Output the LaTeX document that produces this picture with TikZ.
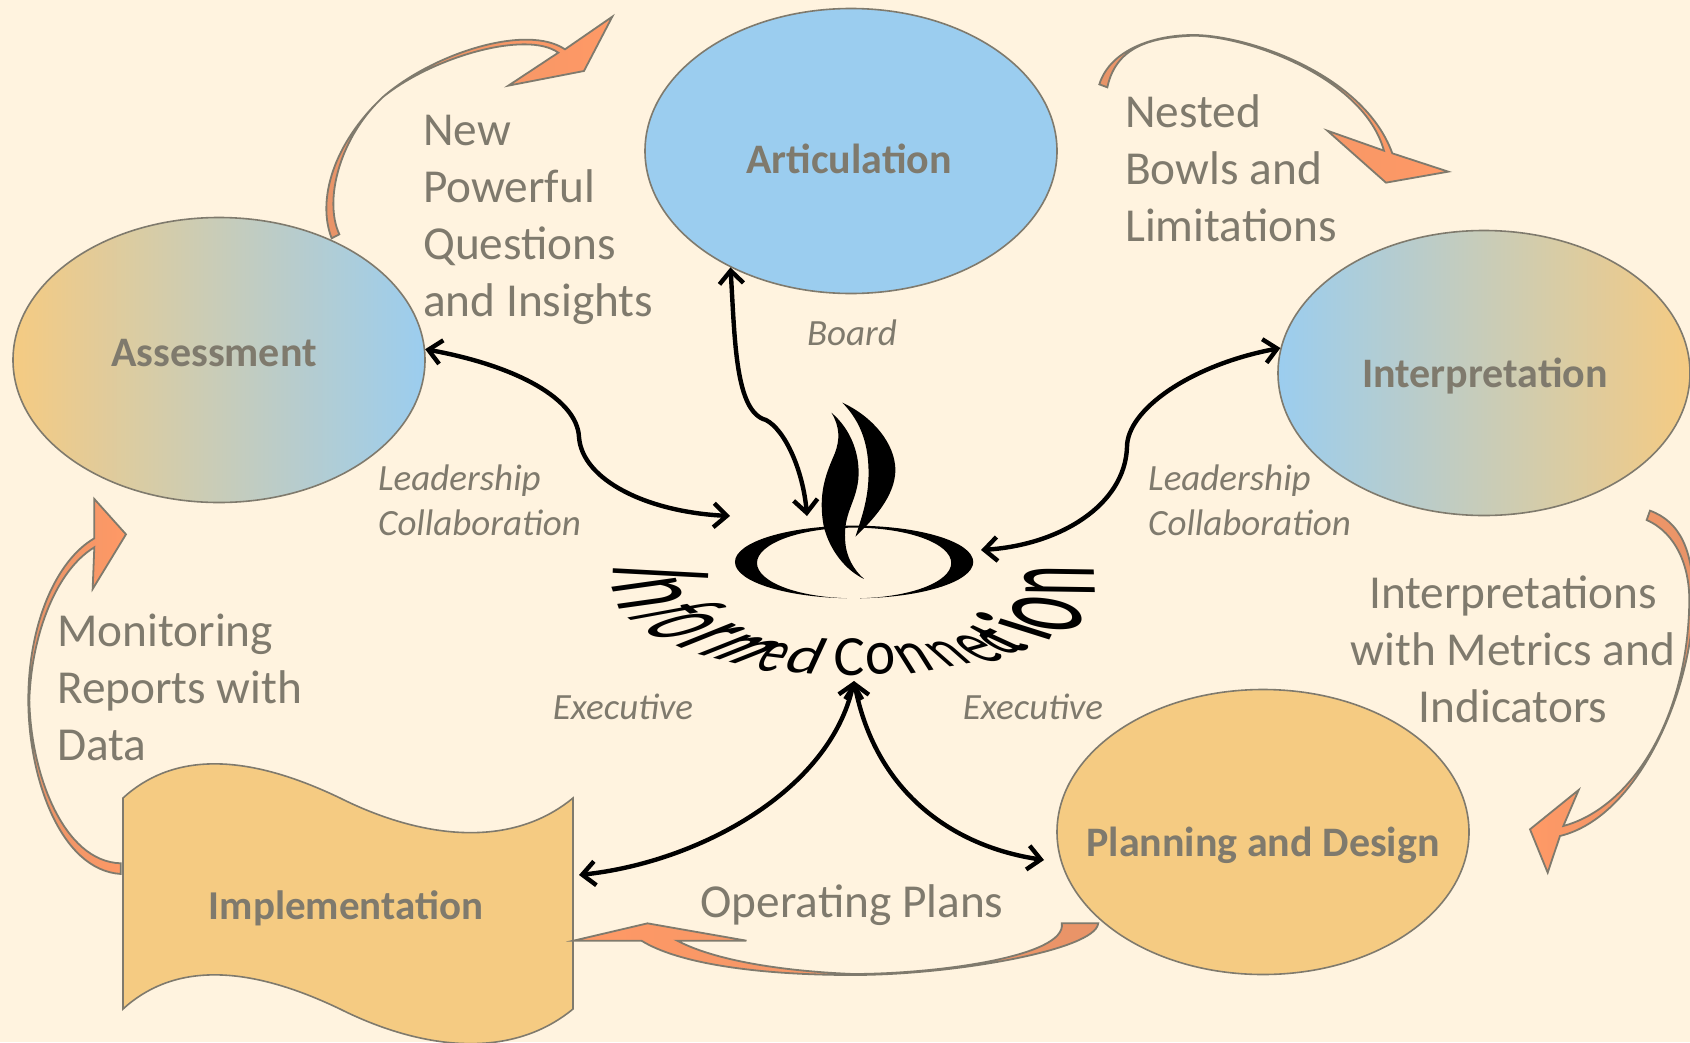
\documentclass[tikz,border=0pt]{standalone}
\usepackage{fontspec}
\setmainfont{Carlito}
\newfontfamily\icfont{Carlito}
\usetikzlibrary{arrows.meta,shapes.geometric}
\definecolor{bgc}{HTML}{FFF3DF}
\definecolor{ink}{HTML}{7F7A6D}
\definecolor{skyb}{HTML}{9BCDEF}
\definecolor{sand}{HTML}{F5CB82}
\definecolor{coral}{HTML}{FF9966}
\definecolor{coraldk}{HTML}{E89468}
\newcommand{\icletter}[6]{%
  \pgfmathsetmacro\ica{\icrx/#3}%
  \pgfmathsetmacro\icb{-\icry/#3}%
  \pgfmathsetmacro\icc{\icux/#4}%
  \pgfmathsetmacro\icd{-\icuy/#4}%
  \node[cm={\ica,\icb,\icc,\icd,(#5,#6)},transform shape,anchor=base west,inner sep=0pt,outer sep=0pt,font=\icfont\fontsize{40pt}{48pt}\selectfont,text=black] (#1) at (0,0) {#2};%
}
\newcommand{\icv}[4]{\def\icrx{(#1)}\def\icry{(#2)}\def\icux{(#3)}\def\icuy{(#4)}}
\tikzset{
  bubble/.style={ellipse,draw=ink,line width=1.6pt,minimum width=412pt,minimum height=285pt,inner sep=0pt},
  boldlbl/.style={font=\fontsize{42pt}{50pt}\selectfont\bfseries,text=ink,inner sep=0pt},
  biglbl/.style={font=\fontsize{47.3pt}{57pt}\selectfont,text=ink,inner sep=0pt},
  smalllbl/.style={font=\fontsize{37pt}{45pt}\selectfont\itshape,text=ink,inner sep=0pt},
  cycle arrow/.style={draw=ink,line width=1.8pt,line join=miter,left color=coraldk,right color=coral},
  link/.style={line width=4.4pt,black,{Straight Barb[length=13pt,width=24pt]}-{Straight Barb[length=13pt,width=24pt]}},
}
\begin{document}
\begin{tikzpicture}[x=1pt,y=-1pt]
\fill[bgc] (0,0) rectangle (1690,1042);
\path[use as bounding box] (0,0) rectangle (1690,1042);
\clip (0,0) rectangle (1690,1042);

% stages
\node[bubble,fill=skyb] (artic) at (851,151) {};
\node[bubble,left color=sand,right color=skyb] (assess) at (219,360) {};
\node[bubble,left color=skyb,right color=sand] (interp) at (1484,373) {};
\node[bubble,fill=sand] (plan) at (1263,832) {};
\fill[sand,draw=ink,line width=1.6pt] (123,798) .. controls (170,755) and (240,750) .. (340,798) .. controls (420,838) and (510,850) .. (573,798) -- (573,1009) .. controls (510,1061) and (420,1049) .. (340,1009) .. controls (240,961) and (170,966) .. (123,1009) -- cycle;

\node[boldlbl] (articT) at (849,159) {Articulation};
\node[boldlbl] (assessT) at (214,353) {Assessment};
\node[boldlbl] (interpT) at (1485,376) {Interpretation};
\node[boldlbl] (planT) at (1263,845) {Planning and Design};
\node[boldlbl,font=\fontsize{41pt}{50pt}\selectfont\bfseries] (implT) at (346,908) {Implementation};

% cycle arrows
\begin{scope}[shift={(300,0)},x=0.3333pt,y=-0.3333pt]
\path[cycle arrow] (95,715) .. controls (50,600) and (100,430) .. (250,290) .. controls (400,160) and (680,70) .. (795,148) -- (937,50) -- (852,213) -- (625,257) -- (775,158) .. controls (680,90) and (400,170) .. (250,290) .. controls (120,410) and (70,600) .. (118,703) -- cycle;
\end{scope}
\begin{scope}[shift={(1080,20)},x=0.3333pt,y=-0.3333pt]
\path[cycle arrow] (58,193) .. controls (90,90) and (220,45) .. (340,45) .. controls (500,45) and (850,160) .. (937,400) -- (1105,455) -- (918,488) -- (742,332) -- (912,392) .. controls (850,170) and (500,48) .. (340,47) .. controls (230,52) and (110,70) .. (82,202) -- cycle;
\end{scope}
\begin{scope}[shift={(1500,500)},x=0.3333pt,y=-0.3333pt]
\path[cycle arrow,left color=coral,right color=coraldk] (450,32) .. controls (540,65) and (580,150) .. (580,300) .. controls (580,560) and (420,950) .. (180,1008) -- (143,1118) -- (90,988) -- (236,870) -- (190,978) .. controls (390,925) and (565,660) .. (568,300) .. controls (568,200) and (530,100) .. (440,60) -- cycle;
\end{scope}
\begin{scope}[shift={(0,490)},x=0.3333pt,y=-0.3333pt]
\path[cycle arrow,left color=coraldk,right color=coral] (362,1152) .. controls (180,1140) and (85,860) .. (85,630) .. controls (85,400) and (170,210) .. (283,145) -- (283,27) -- (378,133) -- (278,297) -- (283,172) .. controls (170,240) and (95,430) .. (88,630) .. controls (92,850) and (190,1115) .. (362,1120) -- cycle;
\end{scope}
\begin{scope}[shift={(560,900)},x=0.35714pt,y=-0.3333pt]
\path[cycle arrow,left color=coral,right color=coraldk] (1507,70) .. controls (1500,150) and (1100,225) .. (820,225) .. controls (550,225) and (330,190) .. (228,122) -- (38,122) -- (245,70) -- (522,122) -- (328,122) .. controls (450,190) and (660,215) .. (820,222) .. controls (1050,222) and (1420,170) .. (1405,70) -- cycle;
\end{scope}

% flame logo
\begin{scope}[shift={(580,380)},x=0.34435pt,y=-0.3333pt]
\fill[black,even odd rule] (796,546) ellipse [x radius=346,y radius=109] (796,549) ellipse [x radius=282,y radius=106];
\fill[bgc] (775,640) rectangle (812,660);
\fill[black] (730,98) .. controls (790,150) and (815,230) .. (808,300) .. controls (800,370) and (765,400) .. (770,480) .. controls (772,530) and (795,570) .. (825,597) .. controls (770,570) and (725,510) .. (708,440) .. controls (690,340) and (715,280) .. (740,220) .. controls (755,180) and (755,140) .. (730,98) -- cycle;
\fill[black] (762,68) .. controls (850,110) and (915,190) .. (916,270) .. controls (915,350) and (850,420) .. (800,470) .. controls (815,420) and (838,360) .. (838,280) .. controls (838,200) and (820,130) .. (762,68) -- cycle;
\end{scope}

% curved title
\icv{-0.5}{13}{94}{5}\icletter{ic1}{I}{10.1}{25.3}{613}{564}
\icv{10}{29}{64}{-9}\icletter{ic2}{n}{21}{19}{610.2}{583}
\icv{12}{9}{98}{-18}\icletter{ic3}{f}{12.2}{29.3}{624.3}{615}
\icv{27}{15}{58}{-18}\icletter{ic4}{o}{21}{19}{638.7}{627.3}
\icv{17}{8}{55}{-22}\icletter{ic5}{\bfseries r}{14.5}{19}{673}{644}
\icv{44}{11}{48}{-19}\icletter{ic6}{\bfseries m}{32.5}{19}{694}{653}
\icv{24}{3}{18}{-27}\icletter{ic7}{e}{20}{19}{752}{669}
\icv{35}{3}{17}{-37}\icletter{ic8}{d}{21}{29.3}{781}{671}
\icv{31}{0}{1}{-37}\icletter{ic9}{C}{21.3}{26}{833}{675}
\icv{30}{-3}{-2}{-30}\icletter{ic10}{o}{21}{19}{866}{675}
\icv{30}{-5}{-17}{-27}\icletter{ic11}{n}{21}{19}{907}{674}
\icv{28}{-5}{-25}{-22}\icletter{ic12}{n}{21}{19}{946}{667}
\icv{25}{-7}{-35}{-24}\icletter{ic13}{e}{20}{19}{983}{664}
\icv{18}{-8}{-32}{-20}\icletter{ic14}{c}{17}{19}{1005}{656}
\icv{13}{-8}{-50}{-23}\icletter{ic15}{\bfseries t}{13.8}{24}{1018}{654}
\icv{5}{-10}{-70}{-22}\icletter{ic16}{\bfseries i}{9.8}{26.5}{1048}{642}
\icv{-5}{-35}{-67}{-8}\icletter{ic17}{o}{21}{19}{1083}{635}
\icv{-1.5}{-30}{-69}{-1}\icletter{ic18}{n}{21}{19}{1095}{596}

% links
\coordinate (hubA) at (730,516);
\coordinate (hubB) at (807,516);
\coordinate (hubC) at (981,550);
\coordinate (apex) at (854,681);
\coordinate (implR) at (579,875);
\coordinate (planL) at (1044,860);
\coordinate (bendA) at (579,437);
\coordinate (bendB) at (766,420);
\coordinate (bendC) at (1127,447);
\draw[link] (assess.3) .. controls (517,366) and (577,399) .. (bendA) .. controls (582,480) and (647,512) .. (hubA);
\draw[link] (artic.224) .. controls (735,340) and (735,412) .. (bendB) .. controls (785,430) and (803,470) .. (hubB);
\draw[link] (interp.173) .. controls (1190,365) and (1127,410) .. (bendC) .. controls (1125,505) and (1060,545) .. (hubC);
\draw[link] (implR) .. controls (700,862) and (830,790) .. (apex);
\draw[link] (planL) .. controls (950,846) and (875,790) .. (apex);

% labels
\node[biglbl,anchor=west,align=left] (t1) at (423,220) {New\\Powerful\\Questions\\and Insights};
\node[biglbl,anchor=west,align=left] (t2) at (1125,168) {Nested\\Bowls and\\Limitations};
\node[biglbl,align=center] (t3) at (1513,649) {Interpretations\\with Metrics and\\Indicators};
\node[biglbl,anchor=west,align=left] (t4) at (57,687) {Monitoring\\Reports with\\Data};
\node[biglbl] (t5) at (852,905) {Operating Plans};
\node[smalllbl] (s1) at (852,333) {Board};
\node[smalllbl,anchor=west,align=left] (s2) at (378,500) {Leadership\\Collaboration};
\node[smalllbl,anchor=west,align=left] (s3) at (1148,500) {Leadership\\Collaboration};
\node[smalllbl] (s4) at (623,707) {Executive};
\node[smalllbl] (s5) at (1033,707) {Executive};
\end{tikzpicture}
\end{document}
